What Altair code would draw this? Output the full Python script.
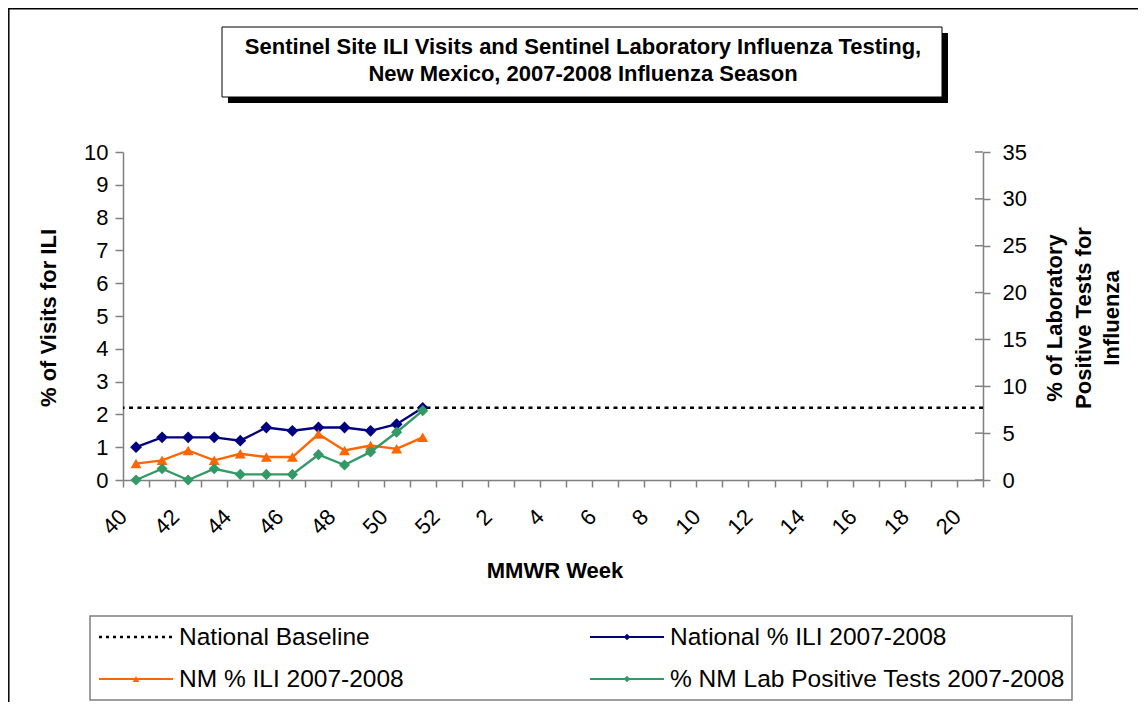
import altair as alt
import pandas as pd

# ---------------- data ----------------
weeks = [str(w) for w in list(range(40, 53)) + list(range(1, 21))]
data_weeks = [str(w) for w in range(40, 52)]
national_ili = [1.0, 1.3, 1.3, 1.3, 1.2, 1.6, 1.5, 1.6, 1.6, 1.5, 1.7, 2.2]
nm_ili = [0.5, 0.6, 0.9, 0.6, 0.8, 0.7, 0.7, 1.4, 0.9, 1.05, 0.95, 1.3]
nm_lab_pos = [0.0, 1.2, 0.0, 1.2, 0.6, 0.6, 0.6, 2.7, 1.6, 3.0, 5.1, 7.4]
national_baseline = [2.2]
left_ticks = list(range(0, 11))
right_ticks = list(range(0, 36, 5))
series_names = ["National Baseline", "National % ILI 2007-2008",
                "NM % ILI 2007-2008", "% NM Lab Positive Tests 2007-2008"]
title_lines = ["Sentinel Site ILI Visits and Sentinel Laboratory Influenza Testing,",
               "New Mexico, 2007-2008 Influenza Season"]
x_title = "MMWR Week"
left_title = "% of Visits for ILI"
right_title = ["% of Laboratory", "Positive Tests for", "Influenza"]

NAVY = "#000080"
ORANGE = "#FF6600"
GREEN = "#339966"
FONT = "Liberation Sans"
AXIS_GRAY = "#808080"

W, H = 860, 328
PAD = {"left": 115, "top": 144, "right": 155, "bottom": 222}

df_nat = pd.DataFrame({"week": data_weeks, "value": national_ili})
df_nm = pd.DataFrame({"week": data_weeks, "value": nm_ili})
df_lab = pd.DataFrame({"week": data_weeks, "value": nm_lab_pos})
df_base = pd.DataFrame({"value": national_baseline})
df_rt = pd.DataFrame({"value": right_ticks})
dummy = pd.DataFrame({"a": [0]})

x_enc = alt.X(
    "week:O",
    sort=weeks,
    scale=alt.Scale(type="band", domain=weeks, paddingInner=0, paddingOuter=0),
    axis=alt.Axis(
        title=None,
        labelExpr="toNumber(datum.value) % 2 == 0 ? datum.label : ''",
        labelAngle=-45,
        labelAlign="right",
        labelBaseline="middle",
        labelOffset=-13,
        labelPadding=26,
        labelFont=FONT,
        labelFontSize=22,
        labelColor="black",
        tickBand="extent",
        tickSize=7,
        tickColor=AXIS_GRAY,
        tickWidth=1.5,
        domainColor=AXIS_GRAY,
        domainWidth=1.5,
        grid=False,
        labelOverlap=False,
    ),
)

left_axis = alt.Axis(
    title=None, values=left_ticks, orient="left", grid=False,
    labelFont=FONT, labelFontSize=22, labelColor="black", labelPadding=7,
    tickSize=8, tickColor=AXIS_GRAY, tickWidth=1.5,
    domainColor=AXIS_GRAY, domainWidth=1.5,
)
right_axis = alt.Axis(
    title=None, values=right_ticks, orient="right", grid=False,
    labelFont=FONT, labelFontSize=22, labelColor="black", labelPadding=12,
    tickSize=7, tickColor=AXIS_GRAY, tickWidth=1.5,
    domainColor=AXIS_GRAY, domainWidth=1.5,
)
y_left = alt.Y("value:Q", scale=alt.Scale(domain=[0, 10]), axis=left_axis)
y_right = alt.Y("value:Q", scale=alt.Scale(domain=[0, 35]), axis=right_axis)

baseline = alt.Chart(df_base).mark_rule(
    color="black", strokeWidth=2.5, strokeDash=[4, 4.5]
).encode(y=y_left)

nat_line = alt.Chart(df_nat).mark_line(color=NAVY, strokeWidth=2.4).encode(x=x_enc, y=y_left)
nat_pts = alt.Chart(df_nat).mark_point(
    shape="diamond", filled=True, size=140, color=NAVY, opacity=1
).encode(x=x_enc, y=y_left)
nm_line = alt.Chart(df_nm).mark_line(color=ORANGE, strokeWidth=2.4).encode(x=x_enc, y=y_left)
nm_pts = alt.Chart(df_nm).mark_point(
    shape="triangle-up", filled=True, size=120, color=ORANGE, opacity=1
).encode(x=x_enc, y=y_left)

left_group = alt.layer(baseline, nat_line, nat_pts, nm_line, nm_pts)

lab_line = alt.Chart(df_lab).mark_line(color=GREEN, strokeWidth=2.4).encode(x=x_enc, y=y_right)
lab_pts = alt.Chart(df_lab).mark_point(
    shape="diamond", filled=True, size=125, color=GREEN, opacity=1
).encode(x=x_enc, y=y_right)
rt_inner = alt.Chart(df_rt).mark_rule(color=AXIS_GRAY, strokeWidth=1.5).encode(
    y=y_right, x=alt.value(W - 8), x2=alt.value(W)
)
right_group = alt.layer(lab_line, lab_pts, rt_inner)

# ---------------- decorations ----------------
deco = []
ox, oy = PAD["left"] + 8, PAD["top"] + 8  # page position of plot origin


def px(page_x):
    return page_x - ox


def py(page_y):
    return page_y - oy


# chart area border (left and top)
deco.append(alt.Chart(dummy).mark_rule(color="black", strokeWidth=1.5).encode(
    x=alt.value(px(8.8)), y=alt.value(py(8)), y2=alt.value(py(710))))
deco.append(alt.Chart(dummy).mark_rule(color="black", strokeWidth=1.5).encode(
    x=alt.value(px(8)), x2=alt.value(px(1146)), y=alt.value(py(8.8))))

# title box with shadow
deco.append(alt.Chart(dummy).mark_rect(color="black").encode(
    x=alt.value(px(228)), x2=alt.value(px(948)), y=alt.value(py(33)), y2=alt.value(py(103))))
deco.append(alt.Chart(dummy).mark_rect(fill="white", stroke="black", strokeWidth=1).encode(
    x=alt.value(px(222)), x2=alt.value(px(942)), y=alt.value(py(27)), y2=alt.value(py(97))))
for i, line in enumerate(title_lines):
    deco.append(alt.Chart(dummy).mark_text(
        text=line, font=FONT, fontSize=22, fontWeight="bold", color="black",
        align="center", baseline="middle").encode(
        x=alt.value(px(583)), y=alt.value(py(47 + 27 * i))))

# axis titles
deco.append(alt.Chart(dummy).mark_text(
    text=x_title, font=FONT, fontSize=22, fontWeight="bold", color="black",
    align="center", baseline="middle").encode(x=alt.value(px(555)), y=alt.value(py(571))))
deco.append(alt.Chart(dummy).mark_text(
    text=left_title, font=FONT, fontSize=22, fontWeight="bold", color="black",
    align="center", baseline="middle", angle=270).encode(x=alt.value(px(49)), y=alt.value(py(318))))
for i, line in enumerate(right_title):
    deco.append(alt.Chart(dummy).mark_text(
        text=line, font=FONT, fontSize=22, fontWeight="bold", color="black",
        align="center", baseline="middle", angle=270).encode(
        x=alt.value(px(1055 + 28.5 * i)), y=alt.value(py(318))))

# legend
deco.append(alt.Chart(dummy).mark_rect(fill="white", stroke="#7f7f7f", strokeWidth=1.5).encode(
    x=alt.value(px(90)), x2=alt.value(px(1072)), y=alt.value(py(616)), y2=alt.value(py(700))))
leg_cols = [(99, 173, 179), (590, 664, 670)]
leg_rows = [637, 679]
leg_style = [
    ("black", None, [3, 4]),
    (NAVY, "diamond", None),
    (ORANGE, "triangle-up", None),
    (GREEN, "diamond", None),
]
for k, name in enumerate(series_names):
    c = k % 2
    r = k // 2
    x0, x1, xt = leg_cols[c]
    yy = leg_rows[r]
    color, shape, dash = leg_style[k]
    if dash:
        deco.append(alt.Chart(dummy).mark_rule(color=color, strokeWidth=2.5, strokeDash=dash).encode(
            x=alt.value(px(x0)), x2=alt.value(px(x1)), y=alt.value(py(yy))))
    else:
        deco.append(alt.Chart(dummy).mark_rule(color=color, strokeWidth=2.2).encode(
            x=alt.value(px(x0)), x2=alt.value(px(x1)), y=alt.value(py(yy))))
        deco.append(alt.Chart(dummy).mark_point(
            shape=shape, filled=True, size=45, color=color, opacity=1).encode(
            x=alt.value(px((x0 + x1) / 2)), y=alt.value(py(yy))))
    deco.append(alt.Chart(dummy).mark_text(
        text=name, font=FONT, fontSize=24.5, color="black",
        align="left", baseline="middle").encode(x=alt.value(px(xt)), y=alt.value(py(yy + 1))))

chart = alt.layer(left_group, right_group, *deco).resolve_scale(y="independent").properties(
    width=W, height=H,
    autosize=alt.AutoSizeParams(type="none"),
    padding=PAD,
    background="white",
).configure_view(strokeWidth=0)

chart.save("out.html", embed_options={"renderer": "svg", "actions": False})
